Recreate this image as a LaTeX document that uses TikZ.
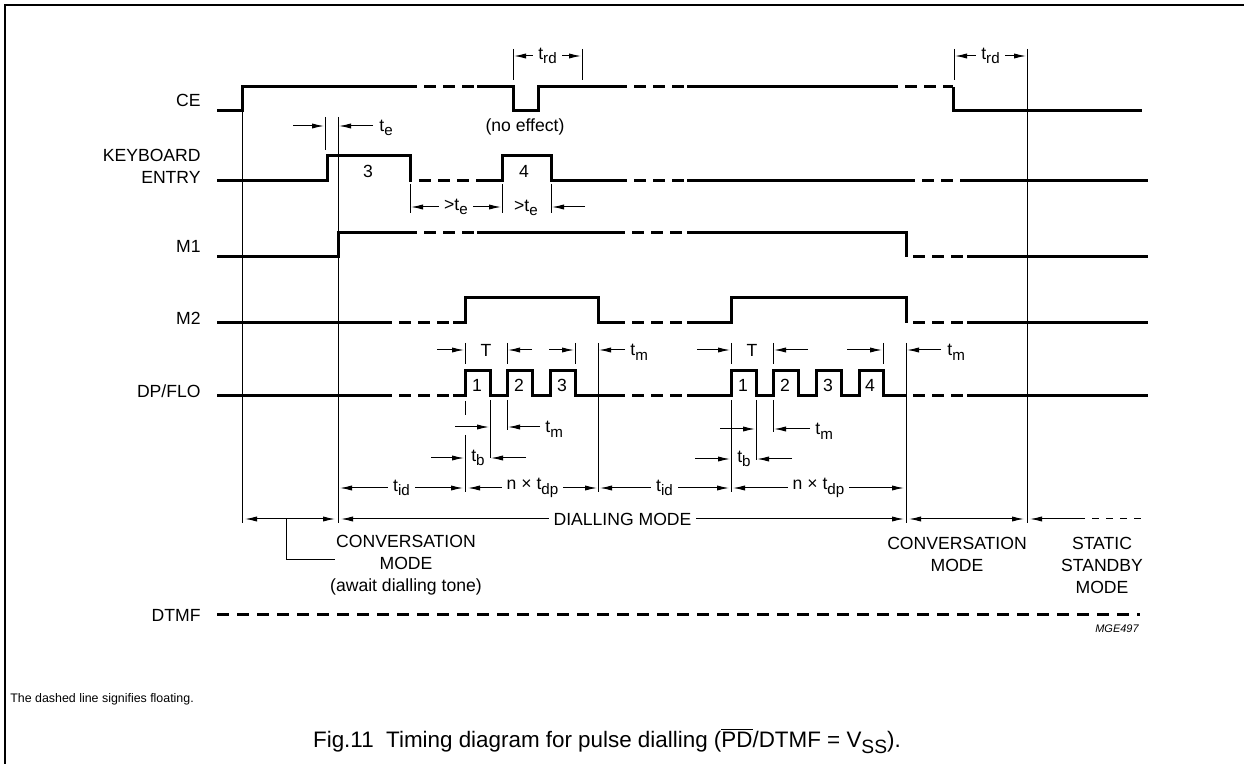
\documentclass[tikz,border=0pt]{standalone}
\usepackage{fontspec}
\setmainfont{Liberation Sans}
\usetikzlibrary{arrows.meta}
\def\ovbar#1{$\overline{\mbox{#1}}$}
\def\subt#1{\raisebox{-0.5ex}{\scalebox{0.86}{#1}}}
\tikzset{
	sig/.style={line width=1.5pt},
	flt/.style={line width=1.5pt, dash pattern=on 6pt off 3.5pt, dash phase=6pt},
	fine/.style={line width=0.5pt},
	meas/.style={line width=0.5pt, -{Latex[length=6pt,width=2.6pt]}},
	measb/.style={line width=0.5pt, {Latex[length=6pt,width=2.6pt]}-{Latex[length=6pt,width=2.6pt]}},
	txt/.style={inner sep=1pt, font=\fontsize{8.8}{11}\selectfont},
	sglbl/.style={txt, anchor=east, align=right},
	onarrow/.style={txt, fill=white, inner sep=2.5pt},
}

\begin{document}
\begin{tikzpicture}[x=0.5pt,y=-0.5pt]
			\useasboundingbox (0,0) rectangle (1244,764);
			%%%%% START %%%%%
			
			\draw[line width=0.75pt] (5,764) -- (5,5) -- (1244,5);
			
			% signal names
			\node[sglbl] (ce) at (203,100) {CE};
			\node[sglbl] (kbd) at (203,166) {KEYBOARD\\ENTRY};
			\node[sglbl] (m1) at (203,246) {M1};
			\node[sglbl] (m2) at (203,318) {M2};
			\node[sglbl] (dpflo) at (203,391) {DP/FLO};
			\node[sglbl] (dtmf) at (203,615) {DTMF};
			
			% CE
			\draw[sig] (217,111) -- (242,111) -- (242,87) -- (417,87);
			\draw[flt] (417,87) -- (477,87);
			\draw[sig] (477,87) -- (513,87) -- (513,111) -- (538,111) -- (538,87) -- (627,87);
			\draw[flt] (627,87) -- (687,87);
			\draw[sig] (687,87) -- (898,87);
			\draw[flt] (898,87) -- (953,87);
			\draw[sig] (953,87) -- (953,111) -- (1142,111);
			\node[txt] (noeff) at (525,127) {(no effect)};
			
			% KEYBOARD ENTRY
			\draw[sig] (217,181) -- (327,181) -- (327,156) -- (410,156) -- (410,181) -- (412,181);
			\draw[flt] (412,181) -- (477,181);
			\draw[sig] (477,181) -- (502,181) -- (502,156) -- (551,156) -- (551,181) -- (627,181);
			\draw[flt] (627,181) -- (687,181);
			\draw[sig] (687,181) -- (915,181);
			\draw[flt] (915,181) -- (967,181);
			\draw[sig] (967,181) -- (1148,181);
			\node[txt] (key3) at (368,171) {3};
			\node[txt] (key4) at (524,171) {4};
			
			% M1
			\draw[sig] (217,257) -- (338,257) -- (338,233) -- (417,233);
			\draw[flt] (417,233) -- (477,233);
			\draw[sig] (477,233) -- (625,233);
			\draw[flt] (625,233) -- (687,233);
			\draw[sig] (687,233) -- (906,233) -- (906,257);
			\draw[flt] (906,257) -- (967,257);
			\draw[sig] (967,257) -- (1148,257);
			
			% M2
			\draw[sig] (217,323) -- (392,323);
			\draw[flt] (392,323) -- (453,323);
			\draw[sig] (453,323) -- (465,323) -- (465,298) -- (598,298) -- (598,323) -- (625,323);
			\draw[flt] (625,323) -- (687,323);
			\draw[sig] (687,323) -- (731,323) -- (731,298) -- (906,298) -- (906,323);
			\draw[flt] (906,323) -- (967,323);
			\draw[sig] (967,323) -- (1148,323);
			
			% DP/FLO
			\draw[sig] (217,396) -- (392,396);
			\draw[flt] (392,396) -- (453,396);
			\draw[sig] (453,396) -- (465,396) -- (465,371) -- (490,371) -- (490,396) -- (507,396) -- (507,371) -- (532,371) -- (532,396) -- (550,396) -- (550,371) -- (575,371) -- (575,396) -- (625,396);
			\draw[flt] (625,396) -- (687,396);
			\draw[sig] (687,396) -- (731,396) -- (731,371) -- (756,371) -- (756,396) -- (773,396) -- (773,371) -- (798,371) -- (798,396) -- (816,396) -- (816,371) -- (841,371) -- (841,396) -- (859,396) -- (859,371) -- (883,371) -- (883,396) -- (906,396);
			\draw[flt] (906,396) -- (967,396);
			\draw[sig] (967,396) -- (1148,396);
			\node[txt] (pa1) at (477,385) {1};
			\node[txt] (pa2) at (519,385) {2};
			\node[txt] (pa3) at (562,385) {3};
			\node[txt] (pb1) at (743,385) {1};
			\node[txt] (pb2) at (785,385) {2};
			\node[txt] (pb3) at (828,385) {3};
			\node[txt] (pb4) at (870,385) {4};
			
			% DTMF
			\draw[line width=1.5pt, dash pattern=on 6pt off 4pt] (217,615) -- (1140,615);
			
			% edge lines
			\draw[fine] (242,111) -- (242,523);
			\draw[fine] (338,117) -- (338,523);
			\draw[fine] (325,117) -- (325,150);
			\draw[fine] (410,184) -- (410,213);
			\draw[fine] (502,184) -- (502,213);
			\draw[fine] (551,184) -- (551,213);
			\draw[fine] (513,49) -- (513,80);
			\draw[fine] (582,49) -- (582,80);
			\draw[fine] (954,49) -- (954,80);
			\draw[fine] (1027,49) -- (1027,523);
			\draw[fine] (465,343) -- (465,364);
			\draw[fine] (507,343) -- (507,364);
			\draw[fine] (575,343) -- (575,364);
			\draw[fine] (731,343) -- (731,364);
			\draw[fine] (773,343) -- (773,364);
			\draw[fine] (883,343) -- (883,364);
			\draw[fine] (598,343) -- (598,492);
			\draw[fine] (906,343) -- (906,523);
			\draw[fine] (465,401) -- (465,415);
			\draw[fine] (465,435) -- (465,492);
			\draw[fine] (490,400) -- (490,458);
			\draw[fine] (507,400) -- (507,430);
			\draw[fine] (731,400) -- (731,492);
			\draw[fine] (756,400) -- (756,460);
			\draw[fine] (773,400) -- (773,432);
			
			% times
			\draw[measb] (514,56) -- node[onarrow] (trda) {t\subt{rd}} (581,56);
			\draw[measb] (955,56) -- node[onarrow] (trdb) {t\subt{rd}} (1026,56);
			
			\draw[meas] (293,126) -- (324,126);
			\draw[meas] (373,126) -- (339,126);
			\node[txt, anchor=west] (te) at (377,128) {t\subt{e}};
			
			\draw[measb] (411,207) -- node[onarrow] (tea) {>t\subt{e}} (501,207);
			\node[txt] (teb) at (526,208) {>t\subt{e}};
			\draw[meas] (585,207) -- (552,207);
			
			\draw[meas] (437,350) -- (464,350);
			\node[txt] (pera) at (486,350) {T};
			\draw[meas] (532,350) -- (508,350);
			\draw[meas] (549,350) -- (574,350);
			\draw[meas] (625,350) -- (599,350);
			\node[txt, anchor=west] (tma) at (628,352) {t\subt{m}};
			
			\draw[meas] (697,350) -- (730,350);
			\node[txt] (perb) at (752,350) {T};
			\draw[meas] (808,350) -- (774,350);
			\draw[meas] (847,350) -- (882,350);
			\draw[meas] (941,350) -- (907,350);
			\node[txt, anchor=west] (tmb) at (945,352) {t\subt{m}};
			
			\draw[meas] (455,427) -- (489,427);
			\draw[meas] (540,427) -- (508,427);
			\node[txt, anchor=west] (tmc) at (543,429) {t\subt{m}};
			\draw[meas] (720,429) -- (755,429);
			\draw[meas] (810,429) -- (774,429);
			\node[txt, anchor=west] (tmd) at (813,431) {t\subt{m}};
			
			\draw[meas] (431,458) -- (464,458);
			\node[txt] (tba) at (478,458) {t\subt{b}};
			\draw[meas] (526,458) -- (491,458);
			\draw[meas] (695,459) -- (730,459);
			\node[txt] (tbb) at (744,459) {t\subt{b}};
			\draw[meas] (792,459) -- (757,459);
			
			\draw[measb] (340,488) -- node[onarrow] (tida) {t\subt{id}} (463,488);
			\draw[measb] (468,488) -- node[onarrow] (ndpa) {n × t\subt{dp}} (597,488);
			\draw[measb] (600,488) -- node[onarrow] (tidb) {t\subt{id}} (729,488);
			\draw[measb] (733,488) -- node[onarrow] (ndpb) {n × t\subt{dp}} (904,488);
			
			% modes
			\draw[measb] (245,519) -- (335,519);
			\draw[fine] (286,519) -- (286,560) -- (335,560);
			\draw[measb] (341,519) -- node[onarrow] (dial) {DIALLING MODE} (904,519);
			\draw[measb] (909,519) -- (1024,519);
			\draw[meas] (1085,519) -- (1030,519);
			\draw[fine, dash pattern=on 3.5pt off 3.5pt, dash phase=3.5pt] (1085,519) -- (1148,519);
			\node[txt, align=center] (conva) at (406,565) {CONVERSATION\\MODE\\(await dialling tone)};
			\node[txt, align=center] (convb) at (957,554) {CONVERSATION\\MODE};
			\node[txt, align=center] (stby) at (1102,565) {STATIC\\STANDBY\\MODE};
			
			\node[font=\fontsize{5.5}{6}\selectfont\itshape] (code) at (1117,629) {MGE497};
			\node[font=\fontsize{6.2}{7}\selectfont, anchor=west, inner sep=0pt] (note) at (10,699) {The dashed line signifies floating.};
			\node[font=\fontsize{11.2}{13}\selectfont] (capt) at (607,741) {Fig.11~~Timing diagram for pulse dialling (\ovbar{PD}/DTMF = V\subt{SS}).};
			
			%%%%% END %%%%%
\end{tikzpicture}
\end{document}
